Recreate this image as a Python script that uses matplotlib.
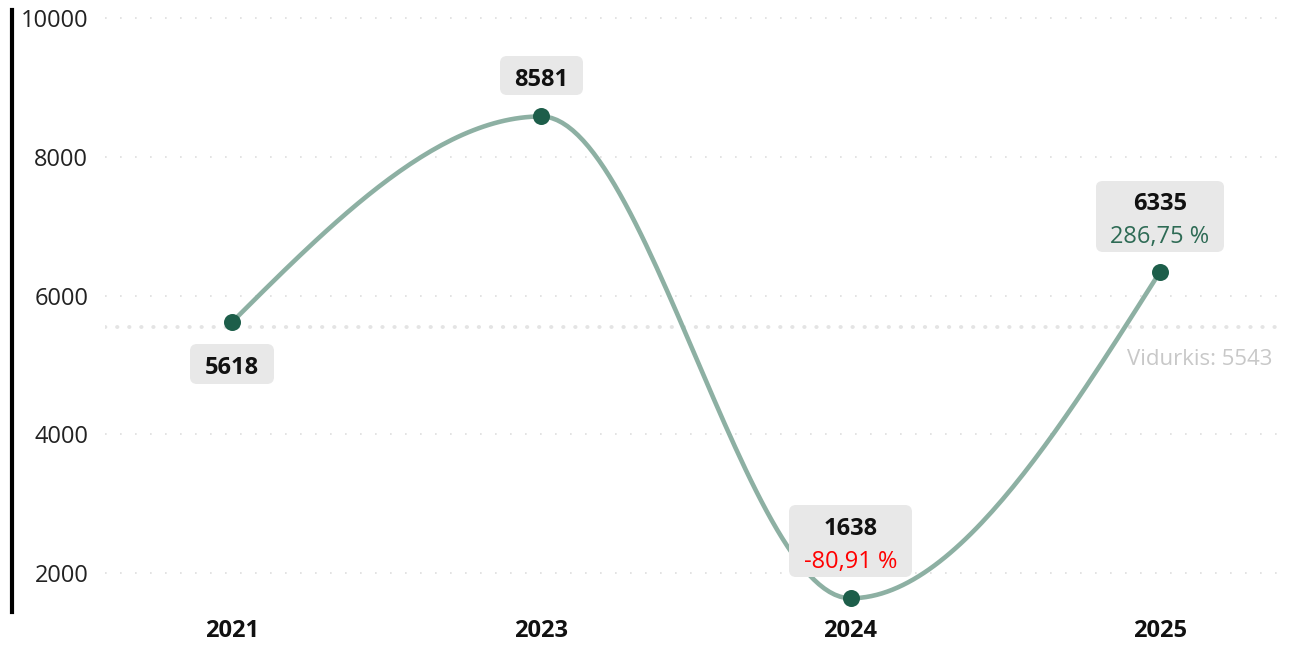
import numpy as np
import matplotlib
matplotlib.use("Agg")
import matplotlib.pyplot as plt
from matplotlib.lines import Line2D
from matplotlib.offsetbox import TextArea, VPacker, HPacker, DrawingArea, AnnotationBbox

# data
years = ["2021", "2023", "2024", "2025"]
values = [5618, 8581, 1638, 6335]
changes = [None, None, "-80,91 %", "286,75 %"]
change_colors = [None, None, "#ff0000", "#2e6b55"]
average = 5543
yticks = [2000, 4000, 6000, 8000, 10000]

LINE = "#8db0a3"
DOT = "#1d5e4a"
BOX = "#e8e8e8"
GRID = "#dedede"
FS = 17

plt.rcParams["font.family"] = ["Open Sans", "DejaVu Sans"]


def monotone_x(xs, ys, n=60):
    # d3-style curveMonotoneX through the points
    xs = np.asarray(xs, float)
    ys = np.asarray(ys, float)
    h = np.diff(xs)
    s = np.diff(ys) / h
    t = np.zeros(len(xs))
    for i in range(1, len(xs) - 1):
        p = (s[i - 1] * h[i] + s[i] * h[i - 1]) / (h[i - 1] + h[i])
        t[i] = (np.sign(s[i - 1]) + np.sign(s[i])) * min(abs(s[i - 1]), abs(s[i]), 0.5 * abs(p))
    t[0] = (3 * s[0] - t[1]) / 2
    t[-1] = (3 * s[-1] - t[-2]) / 2
    px, py = [], []
    u = np.linspace(0, 1, n)
    for i in range(len(xs) - 1):
        dx = h[i] / 3
        P = [(xs[i], ys[i]), (xs[i] + dx, ys[i] + dx * t[i]),
             (xs[i + 1] - dx, ys[i + 1] - dx * t[i + 1]), (xs[i + 1], ys[i + 1])]
        b = [(1 - u) ** 3, 3 * u * (1 - u) ** 2, 3 * u ** 2 * (1 - u), u ** 3]
        px.extend(sum(b[k] * P[k][0] for k in range(4)))
        py.extend(sum(b[k] * P[k][1] for k in range(4)))
    return np.array(px), np.array(py)


fig = plt.figure(figsize=(13, 6.46), dpi=100)
ax = fig.add_axes([105 / 1300, 1 - 612 / 646, (1280 - 105) / 1300, (612 - 10) / 646])

x = np.arange(len(years))
cx, cy = monotone_x(x, values)
ax.plot(cx, cy, color=LINE, linewidth=3.3, solid_capstyle="round", zorder=3)
ax.scatter(x, values, s=150, color=DOT, zorder=4, linewidths=0)

ax.set_xlim(-0.411, 3.389)
ax.set_ylim(1440, 10115)

ax.set_yticks(yticks)
ax.set_yticklabels([str(v) for v in yticks], fontsize=FS, color="#222222")
ax.set_xticks(x)
ax.set_xticklabels(years, fontsize=FS, fontweight="bold", color="#111111")
ax.tick_params(axis="y", length=0, pad=12)
ax.tick_params(axis="x", length=0, pad=5)
for sp in ax.spines.values():
    sp.set_visible(False)

for v in yticks:
    ax.axhline(v, color=GRID, linewidth=1.2, linestyle=(0, (1, 8)), zorder=1)

# average line
ax.axhline(average, color="#e4e4e4", linewidth=2.8, linestyle=(0, (0.1, 3.0)),
           dash_capstyle="round", zorder=1)
ax.annotate(f"Vidurkis: {average}", xy=(1, average), xycoords=("axes fraction", "data"),
            xytext=(-8, -32), textcoords="offset pixels", ha="right", va="center",
            fontsize=16, color="#c8c8c8")

# left spine drawn outside the axes
fig.add_artist(Line2D([12 / 1300, 12 / 1300], [1 - 10 / 646, 1 - 612 / 646],
                      transform=fig.transFigure, color="black", linewidth=3))

# data labels
offsets = [-42, 41, 57, 56]
for i, (v, ch, cc) in enumerate(zip(values, changes, change_colors)):
    parts = [TextArea(str(v), textprops=dict(fontsize=FS, fontweight="bold", color="#111111"))]
    if ch is not None:
        parts.append(TextArea(ch, textprops=dict(fontsize=FS, color=cc)))
    col = VPacker(children=parts, align="center", pad=0, sep=6)
    col = VPacker(children=[DrawingArea(1, 7), col, DrawingArea(1, 1)],
                  align="center", pad=0, sep=0)
    row = HPacker(children=[DrawingArea(9, 1), col, DrawingArea(9, 1)],
                  align="center", pad=0, sep=0)
    ab = AnnotationBbox(row, (x[i], v), xybox=(0, offsets[i]), boxcoords="offset pixels",
                        frameon=True, pad=0.3,
                        bboxprops=dict(boxstyle="round,pad=0.15,rounding_size=0.5",
                                       fc=BOX, ec="none"), zorder=5)
    ax.add_artist(ab)

fig.savefig("out.png", dpi=100, facecolor="white")
